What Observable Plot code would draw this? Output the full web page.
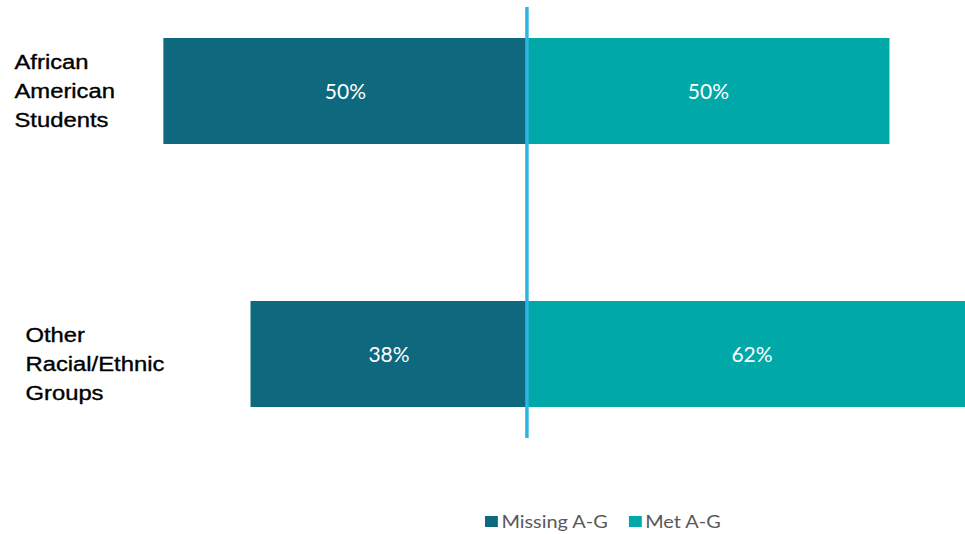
<!DOCTYPE html>
<html>
<head>
<meta charset="utf-8">
<script src="https://cdn.jsdelivr.net/npm/d3@7"></script>
<script src="https://cdn.jsdelivr.net/npm/@observablehq/plot@0.6"></script>
<style>
  html, body { margin: 0; padding: 0; background: #fff; overflow: hidden; }
  #chart { width: 965px; height: 534px; position: relative; }
  .legend { position: absolute; top: 511px; left: 485px; display: flex; align-items: center;
            font-family: Lato, "Open Sans", sans-serif; font-size: 17px; color: #595959;
            transform-origin: 0 0; transform: scaleX(1.17); white-space: nowrap; }
  .legend .item { display: flex; align-items: center; margin-right: 18px; }
  .legend .sw { width: 11px; height: 11px; margin-right: 3px; display: inline-block; }
</style>
</head>
<body>
<div id="chart"></div>
<script>
// ---- data ----
const categories = ["African American Students", "Other Racial/Ethnic Groups"];
const categoryLabels = ["African\nAmerican\nStudents", "Other\nRacial/Ethnic\nGroups"];
const missingAG = [50, 38];
const metAG = [50, 62];
const seriesNames = ["Missing A-G", "Met A-G"];
const seriesColors = ["#0E687E", "#00A8A8"];

const rows = [];
categories.forEach((c, i) => {
  rows.push({category: c, series: seriesNames[0], value: missingAG[i], x1: -missingAG[i], x2: 0});
  rows.push({category: c, series: seriesNames[1], value: metAG[i], x1: 0, x2: metAG[i]});
});
const labelRows = categories.map((c, i) => ({category: c, label: categoryLabels[i]}));

const labelStyle = {
  y: "category", text: "label", frameAnchor: "left", textAnchor: "start",
  lineHeight: 1.45, fontFamily: "Liberation Sans, Arial", fontSize: 20,
  fill: "#000", stroke: "#000", strokeWidth: 0.35
};

const plot = Plot.plot({
  width: 965,
  height: 500,
  marginTop: 0, marginBottom: 0, marginLeft: 0, marginRight: 0,
  x: {domain: [-72.5, 60.4], axis: null},
  y: {type: "band", domain: categories, range: [38, 407], paddingInner: 0.597, paddingOuter: 0, axis: null},
  color: {domain: seriesNames, range: seriesColors},
  marks: [
    Plot.barX(rows, {y: "category", x1: "x1", x2: "x2", fill: "series", clip: true}),
    Plot.text(rows, {
      y: "category",
      x: d => (d.x1 + d.x2) / 2,
      text: d => d.value + "%",
      fill: "white",
      fontFamily: "Lato",
      fontSize: 21,
      dy: 1,
      clip: true
    }),
    Plot.ruleX([0], {stroke: "#2DB5E1", strokeWidth: 3.5, insetTop: 7, insetBottom: 62}),
    Plot.text(labelRows.filter((d, i) => i === 0), {...labelStyle, dx: 14, dy: -3}),
    Plot.text(labelRows.filter((d, i) => i === 1), {...labelStyle, dx: 25, dy: 7})
  ]
});

// stretch category labels horizontally to match reference glyph widths
const flatLabels = categoryLabels.map(s => s.replace(/\s/g, ""));
plot.querySelectorAll("text").forEach(t => {
  if (flatLabels.includes(t.textContent.replace(/\s/g, ""))) {
    const tr = t.getAttribute("transform") || "";
    t.setAttribute("transform", tr + " scale(1.19,1)");
  }
});

const chart = document.getElementById("chart");
chart.appendChild(plot);

const legend = document.createElement("div");
legend.className = "legend";
seriesNames.forEach((s, i) => {
  const item = document.createElement("span");
  item.className = "item";
  const sw = document.createElement("span");
  sw.className = "sw";
  sw.style.background = seriesColors[i];
  item.appendChild(sw);
  item.appendChild(document.createTextNode(s));
  legend.appendChild(item);
});
chart.appendChild(legend);
</script>
</body>
</html>
